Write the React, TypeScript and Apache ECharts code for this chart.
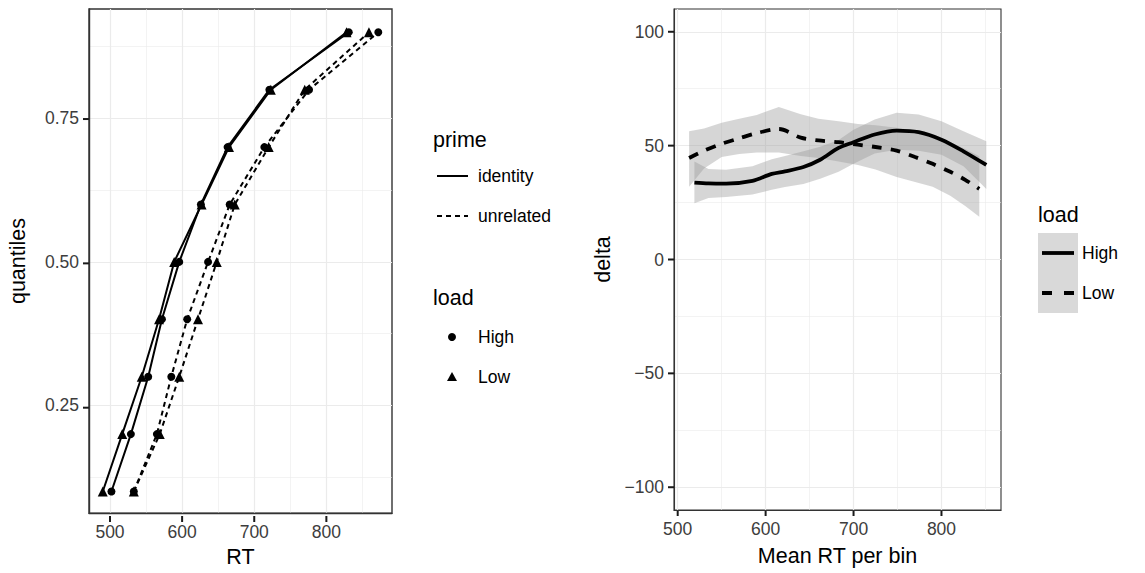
import React, { useEffect, useRef } from 'react';
import * as echarts from 'echarts';

// ---- Left panel data: RT quantiles ----
const quantiles = [0.1, 0.2, 0.3, 0.4, 0.5, 0.6, 0.7, 0.8, 0.9];
const rtIdentityHigh = [502, 529, 553, 572, 596, 626, 663, 721, 831];
const rtIdentityLow = [490, 517, 544, 568, 589, 627, 665, 723, 828];
const rtUnrelatedHigh = [533, 565, 585, 607, 636, 666, 714, 776, 872];
const rtUnrelatedLow = [533, 569, 596, 622, 648, 673, 720, 770, 859];

const rtTicks = [500, 600, 700, 800];
const rtMinor = [550, 650, 750, 850];
const qTicks = [0.25, 0.5, 0.75];
const qMinor = [0.125, 0.375, 0.625, 0.875];

// ---- Right panel data: delta vs mean RT per bin (smoothed) ----
const highX = [519, 535, 555, 585, 607, 622, 643, 662, 683, 700, 724, 749, 774, 800, 825, 851];
const highY = [33.8, 33.4, 33.3, 34.5, 37.6, 38.7, 40.6, 43.8, 49.0, 51.5, 54.9, 56.6, 55.9, 52.6, 47.5, 41.5];
const highUpper = [43, 39.7, 39.4, 41, 44, 45.5, 47.5, 49.5, 52.5, 57, 61.5, 64.4, 63.7, 60.7, 56.3, 51.9];
const highLower = [24.7, 27, 27.4, 28.5, 30.6, 31.8, 33.2, 35.5, 38.5, 42, 46.5, 48.2, 47.8, 46, 41, 31];

const lowX = [513, 530, 550, 570, 590, 615, 640, 660, 683, 705, 725, 749, 770, 790, 810, 827, 843];
const lowY = [44.6, 47.8, 50.8, 53.2, 55.5, 57.3, 53.5, 52.3, 51.5, 50.4, 49.4, 47.8, 45, 42, 38.5, 35, 31];
const lowUpper = [56.3, 57.5, 60, 61.8, 63.5, 67, 63.8, 61.8, 60.7, 59.5, 59, 57.8, 56.5, 54.5, 51.5, 48.5, 45.3];
const lowLower = [32, 40, 45, 46.3, 47, 47, 45.4, 44.6, 43, 41.5, 39.5, 36.2, 34, 32, 28, 23.5, 18.8];

const binTicks = [500, 600, 700, 800];
const binMinor = [550, 650, 750, 850];
const deltaTicks = [-100, -50, 0, 50, 100];
const deltaMinor = [-75, -25, 25, 75];

// axis extents (ggplot 5% expansion)
const RT_MIN = 470.9, RT_MAX = 891;
const Q_MIN = 0.0624, Q_MAX = 0.9406;
const BIN_MIN = 495.8, BIN_MAX = 867.7;
const D_MIN = -110, D_MAX = 110;

const FONT = '"Liberation Sans", Arial, Helvetica, sans-serif';
const TICK_FS = 17.5;
const TITLE_FS = 21.5;
const TICK_LEN = 6;
const TICK_W = 2;

const GRIDS = [
  { left: 89, top: 9, width: 303, height: 507, xr: [RT_MIN, RT_MAX], yr: [Q_MIN, Q_MAX] },
  { left: 674, top: 9, width: 327, height: 501, xr: [BIN_MIN, BIN_MAX], yr: [D_MIN, D_MAX] },
];

const zip = (xs: number[], ys: number[]) => xs.map((x, i) => [x, ys[i]]);

function visibleAxis(extra: any) {
  return {
    type: 'value',
    axisLine: { show: true, onZero: false, lineStyle: { color: '#333', width: extra.lineWidth || 1.1 } },
    axisTick: { show: false, customValues: extra.ticks },
    axisLabel: {
      customValues: extra.ticks,
      margin: 10,
      color: '#3d3d3d',
      fontSize: TICK_FS,
      fontFamily: FONT,
      formatter: extra.formatter,
    },
    splitLine: { show: true, lineStyle: { color: '#ebebeb', width: 1.2 } },
    nameLocation: 'middle',
    nameTextStyle: { fontSize: TITLE_FS, fontFamily: FONT, color: '#000' },
    ...extra.rest,
  };
}

function minorAxis(extra: any) {
  return {
    type: 'value',
    axisLine: { show: false, onZero: false },
    axisTick: { show: false, customValues: extra.ticks },
    axisLabel: { show: false },
    splitLine: { show: true, lineStyle: { color: '#ebebeb', width: 0.6 } },
    ...extra.rest,
  };
}

function ribbon(xs: number[], up: number[], lo: number[]) {
  return {
    type: 'custom',
    xAxisIndex: 2,
    yAxisIndex: 2,
    silent: true,
    data: [[xs[0], up[0]]],
    renderItem: (_params: any, api: any) => {
      const pts: number[][] = [];
      for (let i = 0; i < xs.length; i++) pts.push(api.coord([xs[i], up[i]]));
      for (let i = xs.length - 1; i >= 0; i--) pts.push(api.coord([xs[i], lo[i]]));
      return {
        type: 'polygon',
        shape: { points: pts },
        style: { fill: 'rgba(153,153,153,0.4)', stroke: 'none' },
      };
    },
  };
}

const signed = (v: number) => (v < 0 ? '\u2212' + Math.abs(v) : String(v));

// tick marks as small filled polygons at positions from the same linear scales the axes use
function tickGraphics(): any[] {
  const els: any[] = [];
  const px = (g: number, x: number, y: number) => {
    const G = GRIDS[g];
    return [
      G.left + ((x - G.xr[0]) / (G.xr[1] - G.xr[0])) * G.width,
      G.top + G.height - ((y - G.yr[0]) / (G.yr[1] - G.yr[0])) * G.height,
    ];
  };
  const h = TICK_W / 2;
  const xt = (g: number, vals: number[]) => vals.forEach((v) => {
    const p = px(g, v, GRIDS[g].yr[0]);
    els.push({
      type: 'polygon',
      shape: { points: [[p[0] - h, p[1]], [p[0] + h, p[1]], [p[0] + h, p[1] + TICK_LEN], [p[0] - h, p[1] + TICK_LEN]] },
      style: { fill: '#1a1a1a' },
    });
  });
  const yt = (g: number, vals: number[]) => vals.forEach((v) => {
    const p = px(g, GRIDS[g].xr[0], v);
    els.push({
      type: 'polygon',
      shape: { points: [[p[0] - TICK_LEN, p[1] - h], [p[0], p[1] - h], [p[0], p[1] + h], [p[0] - TICK_LEN, p[1] + h]] },
      style: { fill: '#1a1a1a' },
    });
  });
  xt(0, rtTicks); yt(0, qTicks); xt(1, binTicks); yt(1, deltaTicks);
  return els;
}

const legendGraphics: any[] = [
  // left legend: prime
  { type: 'text', x: 433, y: 140, style: { text: 'prime', fontSize: TITLE_FS, fontFamily: FONT, fill: '#000', verticalAlign: 'middle' } },
  { type: 'line', shape: { x1: 437, y1: 176, x2: 468, y2: 176 }, style: { stroke: '#000', lineWidth: 2 } },
  { type: 'text', x: 478, y: 176, style: { text: 'identity', fontSize: TICK_FS, fontFamily: FONT, fill: '#000', verticalAlign: 'middle' } },
  { type: 'line', shape: { x1: 437, y1: 216, x2: 468, y2: 216 }, style: { stroke: '#000', lineWidth: 2, lineDash: [5, 4] } },
  { type: 'text', x: 478, y: 216, style: { text: 'unrelated', fontSize: TICK_FS, fontFamily: FONT, fill: '#000', verticalAlign: 'middle' } },
  // left legend: load
  { type: 'text', x: 433, y: 298, style: { text: 'load', fontSize: TITLE_FS, fontFamily: FONT, fill: '#000', verticalAlign: 'middle' } },
  { type: 'circle', shape: { cx: 452, cy: 337, r: 4 }, style: { fill: '#000' } },
  { type: 'text', x: 478, y: 337, style: { text: 'High', fontSize: TICK_FS, fontFamily: FONT, fill: '#000', verticalAlign: 'middle' } },
  { type: 'polygon', shape: { points: [[452, 372], [457, 381], [447, 381]] }, style: { fill: '#000' } },
  { type: 'text', x: 478, y: 377, style: { text: 'Low', fontSize: TICK_FS, fontFamily: FONT, fill: '#000', verticalAlign: 'middle' } },
  // right legend: load
  { type: 'text', x: 1038, y: 215, style: { text: 'load', fontSize: TITLE_FS, fontFamily: FONT, fill: '#000', verticalAlign: 'middle' } },
  { type: 'rect', shape: { x: 1038, y: 233, width: 40, height: 80 }, style: { fill: '#d9d9d9' } },
  { type: 'line', shape: { x1: 1042, y1: 253, x2: 1074, y2: 253 }, style: { stroke: '#000', lineWidth: 3.8 } },
  { type: 'text', x: 1082, y: 253, style: { text: 'High', fontSize: TICK_FS, fontFamily: FONT, fill: '#000', verticalAlign: 'middle' } },
  { type: 'line', shape: { x1: 1042, y1: 293, x2: 1074, y2: 293 }, style: { stroke: '#000', lineWidth: 3.8, lineDash: [10, 12] } },
  { type: 'text', x: 1082, y: 293, style: { text: 'Low', fontSize: TICK_FS, fontFamily: FONT, fill: '#000', verticalAlign: 'middle' } },
];

const option: any = {
  animation: false,
  backgroundColor: '#ffffff',
  grid: GRIDS.map((G, i) => ({
    left: G.left, top: G.top, width: G.width, height: G.height, show: true,
    borderColor: '#333', borderWidth: i === 0 ? 1.4 : 1.1, backgroundColor: 'transparent',
  })),
  xAxis: [
    visibleAxis({ ticks: rtTicks, lineWidth: 1.4, rest: { gridIndex: 0, min: RT_MIN, max: RT_MAX, position: 'bottom', name: 'RT', nameGap: 29 } }),
    minorAxis({ ticks: rtMinor, rest: { gridIndex: 0, min: RT_MIN, max: RT_MAX, position: 'bottom' } }),
    visibleAxis({ ticks: binTicks, rest: { gridIndex: 1, min: BIN_MIN, max: BIN_MAX, position: 'bottom', name: 'Mean RT per bin', nameGap: 35 } }),
    minorAxis({ ticks: binMinor, rest: { gridIndex: 1, min: BIN_MIN, max: BIN_MAX, position: 'bottom' } }),
  ],
  yAxis: [
    visibleAxis({ ticks: qTicks, lineWidth: 1.4, formatter: (v: number) => v.toFixed(2), rest: { gridIndex: 0, min: Q_MIN, max: Q_MAX, position: 'left', name: 'quantiles', nameGap: 60 } }),
    minorAxis({ ticks: qMinor, rest: { gridIndex: 0, min: Q_MIN, max: Q_MAX, position: 'left' } }),
    visibleAxis({ ticks: deltaTicks, formatter: signed, rest: { gridIndex: 1, min: D_MIN, max: D_MAX, position: 'left', name: 'delta', nameGap: 60 } }),
    minorAxis({ ticks: deltaMinor, rest: { gridIndex: 1, min: D_MIN, max: D_MAX, position: 'left' } }),
  ],
  series: [
    {
      type: 'line', name: 'identity High', xAxisIndex: 0, yAxisIndex: 0,
      data: zip(rtIdentityHigh, quantiles), symbol: 'circle', symbolSize: 8,
      lineStyle: { color: '#000', width: 2 }, itemStyle: { color: '#000' }, silent: true,
    },
    {
      type: 'line', name: 'identity Low', xAxisIndex: 0, yAxisIndex: 0,
      data: zip(rtIdentityLow, quantiles), symbol: 'triangle', symbolSize: 10,
      lineStyle: { color: '#000', width: 2 }, itemStyle: { color: '#000' }, silent: true,
    },
    {
      type: 'line', name: 'unrelated High', xAxisIndex: 0, yAxisIndex: 0,
      data: zip(rtUnrelatedHigh, quantiles), symbol: 'circle', symbolSize: 8,
      lineStyle: { color: '#000', width: 2, type: [5, 4] }, itemStyle: { color: '#000' }, silent: true,
    },
    {
      type: 'line', name: 'unrelated Low', xAxisIndex: 0, yAxisIndex: 0,
      data: zip(rtUnrelatedLow, quantiles), symbol: 'triangle', symbolSize: 10,
      lineStyle: { color: '#000', width: 2, type: [5, 4] }, itemStyle: { color: '#000' }, silent: true,
    },
    ribbon(highX, highUpper, highLower),
    ribbon(lowX, lowUpper, lowLower),
    {
      type: 'line', name: 'High', xAxisIndex: 2, yAxisIndex: 2,
      data: zip(highX, highY), showSymbol: false, smooth: 0.3,
      lineStyle: { color: '#000', width: 3.8 }, silent: true,
    },
    {
      type: 'line', name: 'Low', xAxisIndex: 2, yAxisIndex: 2,
      data: zip(lowX, lowY), showSymbol: false, smooth: 0.3,
      lineStyle: { color: '#000', width: 3.8, type: [10, 9] }, silent: true,
    },
  ],
  graphic: [...legendGraphics, ...tickGraphics()],
};

export default function App() {
  const ref = useRef<HTMLDivElement>(null);
  useEffect(() => {
    const chart = echarts.init(ref.current as HTMLDivElement, null, { renderer: 'svg' });
    chart.setOption(option);
    return () => chart.dispose();
  }, []);
  return (
    <div
      ref={ref}
      style={{ position: 'absolute', left: 0, top: 0, width: 1145, height: 573, background: '#fff' }}
    />
  );
}
